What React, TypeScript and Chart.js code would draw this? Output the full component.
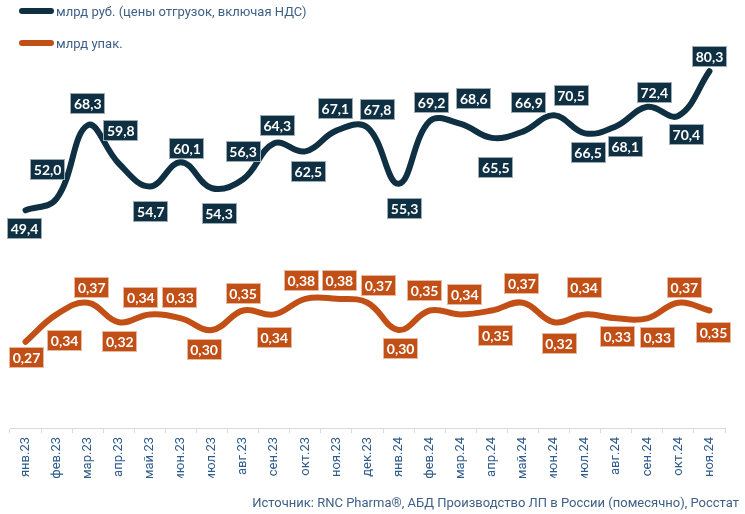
import React, { useEffect, useRef } from "react";
import { Chart, registerables } from "chart.js";

Chart.register(...registerables);

const months = [
  "янв.23", "фев.23", "мар.23", "апр.23", "май.23", "июн.23", "июл.23", "авг.23",
  "сен.23", "окт.23", "ноя.23", "дек.23", "янв.24", "фев.24", "мар.24", "апр.24",
  "май.24", "июн.24", "июл.24", "авг.24", "сен.24", "окт.24", "ноя.24",
];

const rubValues = [
  49.4, 52.0, 68.3, 59.8, 54.7, 60.1, 54.3, 56.3, 64.3, 62.5, 67.1, 67.8,
  55.3, 69.2, 68.6, 65.5, 66.9, 70.5, 66.5, 68.1, 72.4, 70.4, 80.3,
];

const packValues = [
  0.27, 0.34, 0.37, 0.32, 0.34, 0.33, 0.30, 0.35, 0.34, 0.38, 0.38, 0.37,
  0.30, 0.35, 0.34, 0.35, 0.37, 0.32, 0.34, 0.33, 0.33, 0.37, 0.35,
];

const rubLabel = "млрд руб. (цены отгрузок, включая НДС)";
const packLabel = "млрд упак.";
const sourceText = "Источник: RNC Pharma®, АБД Производство ЛП в России (помесячно), Росстат";

// label box offsets (style) relative to each point
const rubLabelOffsets: [number, number][] = [
  [-1, 18], [-9, -29], [0, -22], [2, -33], [1, 25], [6, -14], [7, 25], [0, -28],
  [3, -18], [3, 20], [-1, -22], [10, -18], [6, 25], [2, -19], [13, -25], [4, 30],
  [6, -29], [17, -20], [3, 19], [9, 20], [7, -14], [8, 19], [0, -15],
];
const packLabelOffsets: [number, number][] = [
  [1, 16], [8, 26], [4, -15], [1, 19], [-9, -17], [-1, -21], [-8, 19], [0, -17],
  [0, 23], [-4, -18], [3, -18], [11, -17], [2, 18], [-5, -20], [4, -20], [4, 25],
  [-1, -19], [5, 21], [-1, -27], [1, 18], [10, 19], [6, -15], [4, 22],
];

const NAVY = "#0f2f42";
const ORANGE = "#c24f16";

const boxLabels = {
  id: "boxLabels",
  afterDatasetsDraw(chart: any) {
    const ctx = chart.ctx;
    ctx.save();
    ctx.font = "bold 14px Lato, 'Open Sans', sans-serif";
    ctx.textAlign = "center";
    ctx.textBaseline = "middle";
    chart.data.datasets.forEach((ds: any, di: number) => {
      const meta = chart.getDatasetMeta(di);
      const offs = di === 0 ? rubLabelOffsets : packLabelOffsets;
      meta.data.forEach((pt: any, i: number) => {
        const v = ds.data[i];
        const txt = di === 0 ? v.toFixed(1).replace(".", ",") : v.toFixed(2).replace(".", ",");
        const [dx, dy] = offs[i];
        const cx = pt.x + dx;
        const cy = pt.y + dy;
        const w = 35;
        const h = 21;
        ctx.fillStyle = ds.borderColor;
        ctx.fillRect(Math.round(cx - w / 2), Math.round(cy - h / 2), w, h);
        ctx.strokeStyle = "rgba(255,255,255,0.6)";
        ctx.lineWidth = 1;
        ctx.strokeRect(Math.round(cx - w / 2) + 0.5, Math.round(cy - h / 2) + 0.5, w - 1, h - 1);
        ctx.fillStyle = "#ffffff";
        ctx.fillText(txt, cx, cy + 1);
      });
    });
    ctx.restore();
  },
};

export default function App() {
  const ref = useRef<HTMLCanvasElement>(null);
  useEffect(() => {
    if (!ref.current) return;
    const chart = new Chart(ref.current, {
      type: "line",
      data: {
        labels: months,
        datasets: [
          {
            label: rubLabel,
            data: rubValues,
            borderColor: NAVY,
            backgroundColor: NAVY,
            borderWidth: 6,
            borderCapStyle: "round",
            borderJoinStyle: "round",
            tension: 0.4,
            pointRadius: 0,
            yAxisID: "y",
          },
          {
            label: packLabel,
            data: packValues,
            borderColor: ORANGE,
            backgroundColor: ORANGE,
            borderWidth: 6,
            borderCapStyle: "round",
            borderJoinStyle: "round",
            tension: 0.4,
            pointRadius: 0,
            yAxisID: "y1",
          },
        ],
      },
      options: {
        responsive: false,
        animation: false,
        layout: { padding: { left: 10, right: 20, top: 20, bottom: 36 } },
        plugins: {
          legend: { display: false },
          tooltip: { enabled: false },
        },
        scales: {
          x: {
            offset: true,
            grid: {
              offset: true,
              drawOnChartArea: false,
              drawTicks: true,
              tickLength: 5,
              color: "#d9d9d9",
            },
            border: { display: true, color: "#d9d9d9" },
            ticks: {
              minRotation: 90,
              maxRotation: 90,
              autoSkip: false,
              color: "#2f5b8c",
              padding: 4,
              font: { family: "Roboto, 'Open Sans', sans-serif", size: 13 },
            },
            afterFit: (scale: any) => {
              scale.height = 50;
            },
          },
          y: { display: false, min: 1, max: 91.7 },
          y1: { display: false, min: 0.0487, max: 1.095 },
        },
      },
      plugins: [boxLabels],
    });
    return () => chart.destroy();
  }, []);

  const textColor = "#3e5f86";
  return (
    <div style={{ position: "absolute", left: 0, top: 0, width: 745, height: 514, background: "#fff" }}>
      <canvas ref={ref} width={745} height={514} style={{ position: "absolute", left: 0, top: 0 }} />
      <div style={{ position: "absolute", left: 19, top: 2, display: "flex", alignItems: "center", height: 18, fontFamily: "Roboto, 'Open Sans', sans-serif", fontSize: 13, color: textColor, whiteSpace: "nowrap" }}>
        <span style={{ display: "inline-block", width: 35, height: 6, borderRadius: 3, background: NAVY, marginRight: 2 }} />
        <span>{rubLabel}</span>
      </div>
      <div style={{ position: "absolute", left: 19, top: 34, display: "flex", alignItems: "center", height: 18, fontFamily: "Roboto, 'Open Sans', sans-serif", fontSize: 13, color: textColor, whiteSpace: "nowrap" }}>
        <span style={{ display: "inline-block", width: 35, height: 6, borderRadius: 3, background: ORANGE, marginRight: 2 }} />
        <span>{packLabel}</span>
      </div>
      <div style={{ position: "absolute", right: 6, top: 493, height: 20, lineHeight: "20px", fontFamily: "Roboto, 'Open Sans', sans-serif", fontSize: 13, color: textColor, whiteSpace: "nowrap" }}>
        {sourceText}
      </div>
    </div>
  );
}
